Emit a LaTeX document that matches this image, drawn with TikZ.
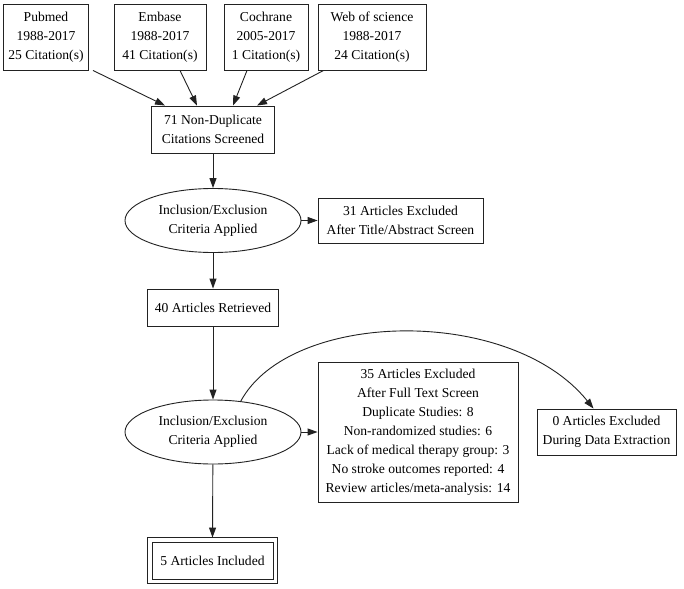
\documentclass[tikz,border=0pt]{standalone}
\usepackage{fontspec}
\setmainfont{Liberation Serif}
\usetikzlibrary{arrows.meta,shapes.geometric}
\definecolor{ink}{HTML}{222222}
\begin{document}
\begin{tikzpicture}[x=1pt,y=-1pt,
  txt/.style={align=center, inner sep=0pt, font=\fontsize{13.6}{19}\selectfont},
  box/.style={txt, draw=ink, line width=0.9pt, rectangle},
  oval/.style={txt, draw=ink, line width=0.9pt, ellipse},
  arr/.style={draw=ink, line width=0.9pt, -{Triangle[length=10pt,width=7pt]}}]
\useasboundingbox[fill=white] (0,0) rectangle (684,588);
% sources
\node[box, minimum width=85pt, minimum height=66pt] (pub) at (46,37) {Pubmed\\1988-2017\\25 Citation(s)};
\node[box, minimum width=92pt, minimum height=66pt] (emb) at (160,37) {Embase\\1988-2017\\41 Citation(s)};
\node[box, minimum width=84pt, minimum height=66pt] (coch) at (266,37) {Cochrane\\2005-2017\\1 Citation(s)};
\node[box, minimum width=108pt, minimum height=66pt] (wos) at (372,37) {Web of science\\1988-2017\\24 Citation(s)};
% screened
\node[box, minimum width=123pt, minimum height=47pt] (scr) at (213,129.5) {71 Non-Duplicate\\Citations Screened};
\node[oval, minimum width=176pt, minimum height=64pt] (el1) at (213,220.5) {Inclusion/Exclusion\\Criteria Applied};
\node[box, minimum width=165pt, minimum height=45pt] (ex1) at (400.5,220.5) {31 Articles Excluded\\After Title/Abstract Screen};
\node[box, minimum width=131pt, minimum height=37pt] (ret) at (213,307.5) {40 Articles Retrieved};
\node[oval, minimum width=176pt, minimum height=64pt] (el2) at (213,432) {Inclusion/Exclusion\\Criteria Applied};
\node[box, minimum width=200pt, minimum height=140pt] (ex2) at (418,432) {35 Articles Excluded\\After Full Text Screen\\Duplicate Studies: 8\\Non-randomized studies: 6\\Lack of medical therapy group: 3\\No stroke outcomes reported: 4\\Review articles/meta-analysis: 14};
\node[box, minimum width=139pt, minimum height=46pt] (ex3) at (606.5,432) {0 Articles Excluded\\During Data Extraction};
\node[box, minimum width=121pt, minimum height=37pt] (inc) at (212.5,560.5) {5 Articles Included};
\draw[ink, line width=0.9pt] ([xshift=-4pt,yshift=4pt]inc.north west) rectangle ([xshift=4pt,yshift=-4pt]inc.south east);
% edges
\draw[arr] ([xshift=4pt]pub.south east) -- ([xshift=-48pt]scr.north);
\draw[arr] ([xshift=20pt]emb.south) -- ([xshift=-16pt]scr.north);
\draw[arr] ([xshift=-19pt]coch.south) -- ([xshift=20pt]scr.north);
\draw[arr] ([xshift=6pt]wos.south west) -- ([xshift=44pt]scr.north);
\draw[arr] (scr) -- (el1);
\draw[arr] (el1) -- (ex1);
\draw[arr] (el1) -- (ret);
\draw[arr] (ret) -- (el2);
\draw[arr] (el2) -- (ex2);
\draw[arr] (el2) -- ([yshift=4pt]inc.north);
\draw[arr] (el2.48) .. controls (290,310) and (510,305) .. ([xshift=-13pt]ex3.north);
\end{tikzpicture}
\end{document}
